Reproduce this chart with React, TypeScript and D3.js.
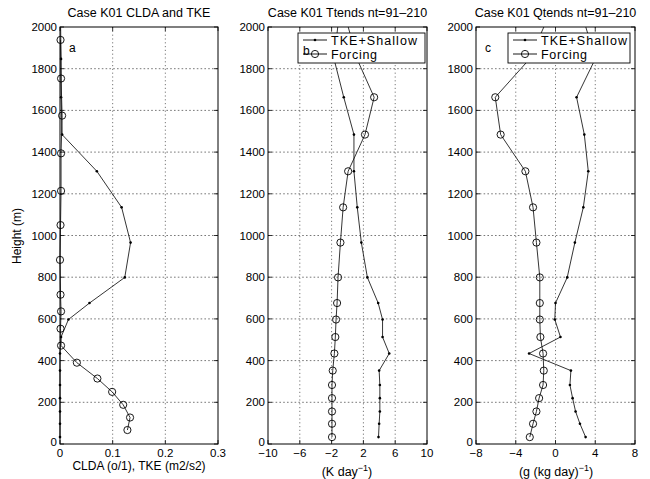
import * as d3 from "d3";

// model levels (m), bottom to top; the last one sits above the plot and is clipped
const levels = [33, 97, 156, 220, 283, 352, 434, 513, 597, 676, 799, 966, 1135, 1308, 1484, 1663, 1847, 2040];
// TKE half levels
const tkeLevels = [67, 127, 188, 250, 314, 390, 472, 553, 636, 716, 883, 1050, 1214, 1394, 1575, 1753, 1938];

// panel a
const cldaValues = [0, 0, 0, 0, 0, 0, 0, 0.002, 0.016, 0.056, 0.123, 0.134, 0.117, 0.07, 0.004, 0.002, 0.002, 0.001];
const tkeValues = [0.128, 0.133, 0.12, 0.099, 0.071, 0.032, 0.002, 0.001, 0.002, 0.001, 0, 0.001, 0.002, 0.002, 0.004, 0.002, 0.001];

// panel b: T tendencies (K/day)
const tShallow = [3.9, 3.98, 4.07, 4.07, 4.07, 3.98, 5.25, 4.41, 4.41, 3.86, 2.5, 1.74, 1.23, 0.81, 0.81, -0.47, -1.7, -1.1];
const tForcing = [-1.95, -1.95, -1.95, -1.95, -1.95, -1.86, -1.65, -1.53, -1.44, -1.31, -1.19, -0.89, -0.55, 0.08, 2.2, 3.35, 1.2, -0.2];

// panel c: Q tendencies (g/kg/day)
const qShallow = [3.03, 2.46, 2.02, 1.72, 1.45, 1.55, -2.66, 0.5, -0.07, 0, 1.18, 1.95, 2.8, 3.3, 2.9, 2.12, 4.0, 2.8];
const qForcing = [-2.59, -2.26, -1.92, -1.65, -1.25, -1.18, -1.25, -1.52, -1.58, -1.58, -1.58, -1.92, -2.26, -3.03, -5.52, -6.06, -2.6, -0.8];

const yTicks = [0, 200, 400, 600, 800, 1000, 1200, 1400, 1600, 1800, 2000];
const xTicksA = [0, 0.1, 0.2, 0.3];
const xTicksB = [-10, -6, -2, 2, 6, 10];
const xTicksC = [-8, -4, 0, 4, 8];

const legendLabels = ["TKE+Shallow", "Forcing"];

const FONT = "'Liberation Sans', Arial, Helvetica, sans-serif";
const top = 27;
const bottom = 444;

type Series = { x: number[]; h: number[]; marker: "dot" | "circle" };

const fmt = (d: number) => String(d).replace("-", "\u2212");

function Panel({
  id,
  left,
  right,
  domain,
  ticks,
  series,
  title,
  letter,
  letterDx,
  letterY,
  xlabel,
  legend,
}: {
  id: string;
  left: number;
  right: number;
  domain: [number, number];
  ticks: number[];
  series: Series[];
  title: string;
  letter: string;
  letterDx: number;
  letterY: number;
  xlabel: React.ReactNode;
  legend?: { x: number; w: number };
}) {
  const x = d3.scaleLinear().domain(domain).range([left, right]);
  const y = d3.scaleLinear().domain([0, 2000]).range([bottom, top]);
  const line = d3
    .line<[number, number]>()
    .x((d) => x(d[0]))
    .y((d) => y(d[1]));

  return (
    <g fontFamily={FONT}>
      <defs>
        <clipPath id={`clip-${id}`}>
          <rect x={left - 6} y={top} width={right - left + 12} height={bottom - top + 6} />
        </clipPath>
      </defs>

      {/* grid */}
      {ticks.slice(1, -1).map((t) => (
        <line key={`gx${t}`} x1={x(t)} x2={x(t)} y1={top} y2={bottom}
          stroke="#555" strokeWidth={0.8} strokeDasharray="1.2 2.6" />
      ))}
      {yTicks.slice(1, -1).map((t) => (
        <line key={`gy${t}`} x1={left} x2={right} y1={y(t)} y2={y(t)}
          stroke="#555" strokeWidth={0.8} strokeDasharray="1.6 2.2" />
      ))}

      {/* tick marks, inward on all four sides */}
      {ticks.map((t) => (
        <g key={`tx${t}`}>
          <line x1={x(t)} x2={x(t)} y1={bottom} y2={bottom - 4} stroke="#000" strokeWidth={0.8} />
          <line x1={x(t)} x2={x(t)} y1={top} y2={top + 4} stroke="#000" strokeWidth={0.8} />
          <text x={x(t)} y={456.5} fontSize={11.5} textAnchor="middle">{fmt(t)}</text>
        </g>
      ))}
      {yTicks.map((t) => (
        <g key={`ty${t}`}>
          <line x1={left} x2={left + 4} y1={y(t)} y2={y(t)} stroke="#000" strokeWidth={0.8} />
          <line x1={right} x2={right - 4} y1={y(t)} y2={y(t)} stroke="#000" strokeWidth={0.8} />
          <text x={left - 3} y={y(t) + (t === 0 ? 2 : 4)} fontSize={11.5} textAnchor="end">{t}</text>
        </g>
      ))}

      {/* data */}
      <g clipPath={`url(#clip-${id})`}>
        {series.map((s, i) => {
          const pts = s.x.map((v, k) => [v, s.h[k]] as [number, number]);
          return (
            <g key={i}>
              <path d={line(pts) ?? ""} fill="none" stroke="#111" strokeWidth={0.85} />
              {pts
                .filter((p) => p[1] <= 2000)
                .map((p, k) =>
                  s.marker === "circle" ? (
                    <circle key={k} cx={x(p[0])} cy={y(p[1])} r={3.6} fill="none" stroke="#000" strokeWidth={0.9} />
                  ) : (
                    <circle key={k} cx={x(p[0])} cy={y(p[1])} r={1.3} fill="#000" />
                  )
                )}
            </g>
          );
        })}
      </g>

      {/* axes box */}
      <rect x={left} y={top} width={right - left} height={bottom - top} fill="none" stroke="#000" strokeWidth={1} />

      {legend && (
        <g>
          <rect x={legend.x} y={33} width={legend.w} height={30} fill="#fff" stroke="#000" strokeWidth={0.9} />
          <line x1={legend.x + 5} x2={legend.x + 29} y1={40} y2={40} stroke="#000" strokeWidth={0.9} />
          <circle cx={legend.x + 17} cy={40} r={1.3} fill="#000" />
          <line x1={legend.x + 5} x2={legend.x + 29} y1={54} y2={54} stroke="#000" strokeWidth={0.9} />
          <circle cx={legend.x + 17} cy={54} r={3.6} fill="none" stroke="#000" strokeWidth={0.9} />
          <text x={legend.x + 33} y={44.5} fontSize={12.5} textLength={86} lengthAdjust="spacing">{legendLabels[0]}</text>
          <text x={legend.x + 33} y={58.5} fontSize={12.5} textLength={46} lengthAdjust="spacing">{legendLabels[1]}</text>
        </g>
      )}

      <text x={left + letterDx} y={letterY} fontSize={12}>{letter}</text>
      <text x={(left + right) / 2} y={17} fontSize={12.5} textAnchor="middle">{title}</text>
      {xlabel}
    </g>
  );
}

export default function App() {
  return (
    <svg
      width={650}
      height={479}
      viewBox="0 0 650 479"
      style={{ position: "absolute", left: 0, top: 0, background: "#fff" }}
    >
      <rect width={650} height={479} fill="#fff" />
      <text
        transform="translate(21,236) rotate(-90)"
        fontFamily={FONT}
        fontSize={12}
        textAnchor="middle"
      >
        Height (m)
      </text>

      <Panel
        id="a"
        left={60}
        right={218}
        domain={[0, 0.3]}
        ticks={xTicksA}
        series={[
          { x: cldaValues, h: levels, marker: "dot" },
          { x: tkeValues, h: tkeLevels, marker: "circle" },
        ]}
        title="Case K01 CLDA and TKE"
        letter="a"
        letterDx={9}
        letterY={52}
        xlabel={
          <text x={139} y={470} fontSize={12} textAnchor="middle" fontFamily={FONT}>
            CLDA (o/1), TKE (m2/s2)
          </text>
        }
      />
      <Panel
        id="b"
        left={268}
        right={427}
        domain={[-10, 10]}
        ticks={xTicksB}
        series={[
          { x: tShallow, h: levels, marker: "dot" },
          { x: tForcing, h: levels, marker: "circle" },
        ]}
        title={"Case K01 Ttends nt=91\u2013210"}
        letter="b"
        letterDx={35}
        letterY={55}
        legend={{ x: 298, w: 127 }}
        xlabel={
          <text x={347} y={476} fontSize={12.5} textAnchor="middle" fontFamily={FONT}>
            (K day<tspan dy={-5} fontSize={9}>{"\u22121"}</tspan>
            <tspan dy={5}>)</tspan>
          </text>
        }
      />
      <Panel
        id="c"
        left={476}
        right={635}
        domain={[-8, 8]}
        ticks={xTicksC}
        series={[
          { x: qShallow, h: levels, marker: "dot" },
          { x: qForcing, h: levels, marker: "circle" },
        ]}
        title={"Case K01 Qtends nt=91\u2013210"}
        letter="c"
        letterDx={9}
        letterY={52}
        legend={{ x: 508, w: 122 }}
        xlabel={
          <text x={556} y={476} fontSize={12.5} textAnchor="middle" fontFamily={FONT}>
            (g (kg day)<tspan dy={-5} fontSize={9}>{"\u22121"}</tspan>
            <tspan dy={5}>)</tspan>
          </text>
        }
      />
    </svg>
  );
}
